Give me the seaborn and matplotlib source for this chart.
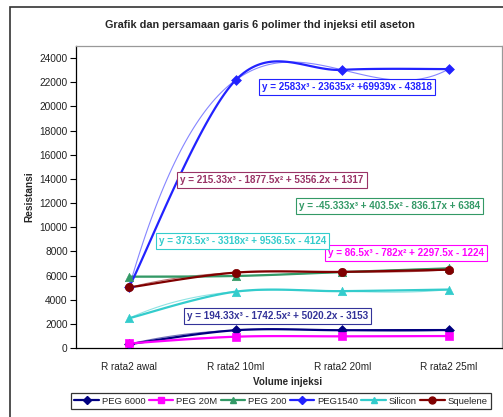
import numpy as np
import pandas as pd
import matplotlib
matplotlib.use("Agg")
import matplotlib.pyplot as plt
from matplotlib.lines import Line2D
from matplotlib.patches import Rectangle
import seaborn as sns

# ---- data -------------------------------------------------------------
categories = ["R rata2 awal", "R rata2 10ml", "R rata2 20ml", "R rata2 25ml"]
series_names = ["PEG 6000", "PEG 20M", "PEG 200", "PEG1540", "Silicon", "Squelene"]

peg6000 = [319, 1472, 1472, 1485]
peg20m = [378, 935, 966, 990]
peg200 = [5906, 5963, 6283, 6594]
peg1540 = [5069, 22184, 23025, 23090]
silicon = [2468, 4665, 4708, 4838]
squelene = [5011, 6242, 6302, 6483]

# cubic trendline coefficients (a, b, c, d) for y = ax^3 + bx^2 + cx + d, x = 1..4
coef_peg6000 = [194.33, -1742.5, 5020.2, -3153]
coef_peg20m = [86.5, -782, 2297.5, -1224]
coef_peg200 = [-45.333, 403.5, -836.17, 6384]
coef_peg1540 = [2583, -23635, 69939, -43818]
coef_silicon = [373.5, -3318, 9536.5, -4124]
coef_squelene = [215.33, -1877.5, 5356.2, 1317]

eq_peg6000 = "y = 194.33x³ - 1742.5x² + 5020.2x - 3153"
eq_peg20m = "y = 86.5x³ - 782x² + 2297.5x - 1224"
eq_peg200 = "y = -45.333x³ + 403.5x² - 836.17x + 6384"
eq_peg1540 = "y = 2583x³ - 23635x² +69939x - 43818"
eq_silicon = "y = 373.5x³ - 3318x² + 9536.5x - 4124"
eq_squelene = "y = 215.33x³ - 1877.5x² + 5356.2x + 1317"

y_ticks = list(range(0, 24001, 2000))

# ---- styling ----------------------------------------------------------
sns.set_theme(style="white")
plt.rcParams["font.family"] = ["Liberation Sans", "DejaVu Sans"]

values = [peg6000, peg20m, peg200, peg1540, silicon, squelene]
coefs = [coef_peg6000, coef_peg20m, coef_peg200, coef_peg1540, coef_silicon, coef_squelene]
equations = [eq_peg6000, eq_peg20m, eq_peg200, eq_peg1540, eq_silicon, eq_squelene]
colors = ["#000080", "#ff00ff", "#339966", "#2222ff", "#33cccc", "#800000"]
label_colors = ["#333399", "#ff00ff", "#339966", "#2222ff", "#33cccc", "#993366"]
markers = ["D", "s", "^", "D", "^", "o"]
msizes = [5, 6, 6, 5, 6, 6]
# equation box centres in axes fraction
label_pos = [(0.474, 0.106), (0.775, 0.315), (0.735, 0.470),
             (0.636, 0.864), (0.390, 0.354), (0.460, 0.556)]


def smooth(xs, ys, n=40):
    """Bezier smoothing through the points (Catmull-Rom style tangents)."""
    pts = np.column_stack([xs, ys]).astype(float)
    m = len(pts)
    out = []
    for i in range(m - 1):
        p0 = pts[i]
        p3 = pts[i + 1]
        pm = pts[max(i - 1, 0)]
        pp = pts[min(i + 2, m - 1)]
        c1 = p0 + (p3 - pm) / 6.0
        c2 = p3 - (pp - p0) / 6.0
        t = np.linspace(0, 1, n)[:, None]
        seg = ((1 - t) ** 3) * p0 + 3 * ((1 - t) ** 2) * t * c1 + 3 * (1 - t) * t ** 2 * c2 + t ** 3 * p3
        out.append(seg if i == 0 else seg[1:])
    return np.vstack(out)


fig = plt.figure(figsize=(5.03, 4.17), dpi=100)
ax = fig.add_axes([76 / 503, 1 - 348 / 417, (502 - 76) / 503, (348 - 46) / 417])

xpos = np.arange(len(categories))

# smoothed data lines and trendlines
rows = []
for name, vals, cf in zip(series_names, values, coefs):
    cur = smooth(xpos, vals)
    for xx, yy in cur:
        rows.append({"series": name, "kind": "data", "x": xx, "y": yy})
    xt = np.linspace(1, 4, 120)
    yt = np.polyval(cf, xt)
    for xx, yy in zip(xt - 1, yt):
        rows.append({"series": name, "kind": "trend", "x": xx, "y": yy})
lines_df = pd.DataFrame(rows)
palette = dict(zip(series_names, colors))

sns.lineplot(data=lines_df[lines_df.kind == "trend"], x="x", y="y", hue="series",
             palette=palette, hue_order=series_names, sort=False, estimator=None,
             linewidth=0.8, alpha=0.55, legend=False, ax=ax)
sns.lineplot(data=lines_df[lines_df.kind == "data"], x="x", y="y", hue="series",
             palette=palette, hue_order=series_names, sort=False, estimator=None,
             linewidth=1.6, legend=False, ax=ax)

for name, vals, c, mk, ms in zip(series_names, values, colors, markers, msizes):
    pts = pd.DataFrame({"x": xpos, "y": vals})
    sns.scatterplot(data=pts, x="x", y="y", color=c, marker=mk, s=ms ** 2,
                    edgecolor=c, linewidth=0.5, zorder=5, ax=ax, legend=False)

# equation labels
for eq, lc, (px, py) in zip(equations, label_colors, label_pos):
    ax.text(px, py, eq, transform=ax.transAxes, ha="center", va="center",
            fontsize=7.1, fontweight="bold", color=lc, zorder=6,
            bbox=dict(boxstyle="square,pad=0.3", facecolor="white", edgecolor=lc, linewidth=0.8))

# axes
ax.set_xlim(-0.5, 3.5)
ax.set_ylim(0, 25000)
ax.set_yticks(y_ticks)
ax.set_yticklabels([str(v) for v in y_ticks], fontsize=7.3, color="#222222")
ax.set_xticks(xpos)
ax.set_xticklabels(categories, fontsize=7.2, color="#222222")
ax.set_xticks(np.arange(-0.5, 3.6, 1.0), minor=True)
ax.tick_params(axis="x", which="major", length=0, pad=10)
ax.tick_params(axis="x", which="minor", length=4, width=0.8, color="black", direction="out")
ax.tick_params(axis="y", which="major", length=4, width=0.8, color="black", direction="out", pad=2, left=True)
ax.set_xlabel("")
ax.set_ylabel("")
for side in ["left", "bottom"]:
    ax.spines[side].set_color("black")
    ax.spines[side].set_linewidth(0.9)
for side in ["top", "right"]:
    ax.spines[side].set_color("#999999")
    ax.spines[side].set_linewidth(0.9)
ax.grid(False)

fig.text(260 / 503, 1 - 25 / 417, "Grafik dan persamaan garis 6 polimer thd injeksi etil aseton",
         ha="center", va="center", fontsize=7.8, fontweight="bold")
fig.text(29 / 503, 1 - 197 / 417, "Resistansi", rotation=90, ha="center", va="center",
         fontsize=7.3, fontweight="bold")
fig.text(288 / 503, 1 - 382 / 417, "Volume injeksi", ha="center", va="center",
         fontsize=7.1, fontweight="bold")

# legend
handles = [Line2D([0], [0], color=c, marker=mk, markersize=ms - 1, linewidth=1.6,
                  markeredgecolor=c)
           for c, mk, ms in zip(colors, markers, msizes)]
leg = fig.legend(handles, series_names, loc="center", bbox_to_anchor=(281 / 503, 1 - 401 / 417),
                 ncol=6, fontsize=6.8, frameon=True, fancybox=False, handlelength=2.6,
                 handletextpad=0.3, columnspacing=0.35, borderpad=0.35, borderaxespad=0.0)
leg.get_frame().set_edgecolor("black")
leg.get_frame().set_linewidth(0.9)

# outer chart frame
fig.patches.append(Rectangle((10 / 503, -0.1), 1.2, 1 - 7 / 417 + 0.1, transform=fig.transFigure,
                             fill=False, edgecolor="#333333", linewidth=1.2))

fig.savefig("out.png", dpi=100)
